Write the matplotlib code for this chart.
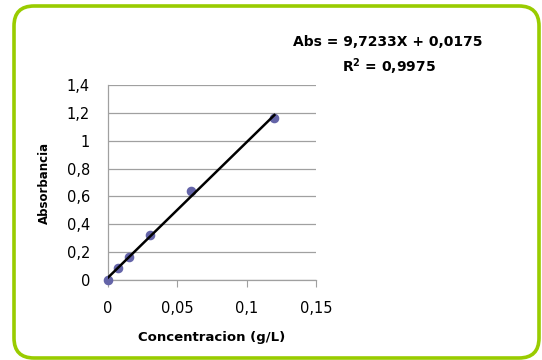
import matplotlib.pyplot as plt
from matplotlib.patches import FancyBboxPatch

# calibration data
conc = [0, 0.0075, 0.015, 0.03, 0.06, 0.12]
absorb = [0.0, 0.085, 0.165, 0.32, 0.64, 1.165]
slope = 9.7233
intercept = 0.0175
xticks = [0, 0.05, 0.1, 0.15]
xlabels = ['0', '0,05', '0,1', '0,15']
yticks = [0, 0.2, 0.4, 0.6, 0.8, 1.0, 1.2, 1.4]
ylabels = ['0', '0,2', '0,4', '0,6', '0,8', '1', '1,2', '1,4']

fig = plt.figure(figsize=(5.42, 3.6), dpi=100)

# rounded green frame (pixel coords)
frame = FancyBboxPatch((14, 2), 525, 352, boxstyle='round,pad=0,rounding_size=20',
                       transform=None, facecolor='white', edgecolor='#99cc00',
                       linewidth=2.6, zorder=0)
fig.add_artist(frame)

ax = fig.add_axes([108 / 542, 80 / 360, 208 / 542, 195 / 360])
ax.patch.set_alpha(0)
ax.set_xlim(0, 0.15)
ax.set_ylim(0, 1.4)

ax.set_yticks(yticks)
ax.set_yticklabels(ylabels)
ax.set_xticks(xticks)
ax.set_xticklabels(xlabels)
ax.grid(True, axis='y', color='#a0a0a0', linewidth=0.9)
ax.set_axisbelow(True)

for s in ['top', 'right']:
    ax.spines[s].set_visible(False)
for s in ['left', 'bottom']:
    ax.spines[s].set_color('#a0a0a0')
    ax.spines[s].set_linewidth(0.9)

ax.tick_params(axis='y', length=0, pad=13, labelsize=10.5)
ax.tick_params(axis='x', direction='out', length=5, color='#a0a0a0', pad=10, labelsize=10.5)

ax.scatter(conc, absorb, s=35, color='#6464a8', zorder=3, clip_on=False)
xl = [conc[0], conc[-1]]
ax.plot(xl, [slope * x + intercept for x in xl], color='black', linewidth=1.8, zorder=4)

ax.set_xlabel('Concentracion (g/L)', fontsize=9.5, fontweight='bold', labelpad=11)
ax.set_ylabel('Absorbancia', fontsize=8.5, fontweight='bold', labelpad=11)

fig.text(388 / 542, 1 - 42 / 360, 'Abs = 9,7233X + 0,0175', ha='center', va='center',
         fontsize=10, fontweight='bold')
fig.text(389 / 542, 1 - 67 / 360, r'R$^\mathbf{2}$ = 0,9975', ha='center', va='center',
         fontsize=10, fontweight='bold')

fig.savefig('out.png', dpi=100)
